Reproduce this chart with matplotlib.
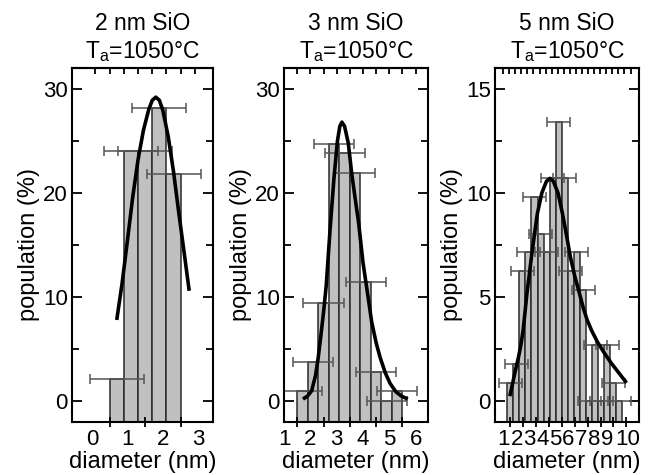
import matplotlib
matplotlib.use("Agg")
import matplotlib.pyplot as plt
import numpy as np

plt.rcParams["font.family"] = ["Liberation Sans", "DejaVu Sans"]
plt.rcParams["mathtext.default"] = "regular"

# 2 nm SiO
centers_2nm = [0.7, 1.1, 1.5, 1.9, 2.3]
pop_2nm = [2.1, 24.0, 24.0, 28.2, 21.8]
fit_x_2nm = [0.70, 0.85, 1.00, 1.15, 1.30, 1.45, 1.60, 1.70, 1.80, 1.90,
             2.00, 2.15, 2.30, 2.45, 2.60, 2.74]
fit_y_2nm = [7.8, 11.3, 15.4, 19.6, 23.2, 26.0, 28.0, 28.9, 29.2, 28.9,
             27.9, 25.4, 22.0, 18.0, 14.2, 10.6]

# 3 nm SiO
centers_3nm = [1.7, 2.1, 2.5, 2.9, 3.3, 3.7, 4.1, 4.5, 4.9, 5.3]
pop_3nm = [1.0, 3.8, 9.4, 24.7, 23.8, 21.9, 11.4, 2.8, 0.0, 1.0]
fit_x_3nm = [1.72, 1.90, 2.05, 2.20, 2.30, 2.40, 2.50, 2.60, 2.75, 2.90,
             3.03, 3.12, 3.20, 3.30, 3.44, 3.57, 3.70, 3.83, 4.00, 4.17,
             4.33, 4.50, 4.65, 4.85, 5.03, 5.25, 5.45, 5.70]
fit_y_3nm = [0.2, 0.5, 1.0, 2.5, 4.2, 6.3, 8.5, 11.0, 16.5, 21.5,
             25.0, 26.4, 26.8, 26.4, 24.8, 21.9, 19.5, 17.2, 13.3, 10.4,
             7.6, 5.6, 4.2, 2.7, 1.7, 0.9, 0.5, 0.2]

# 5 nm SiO
centers_5nm = [1.50, 1.97, 2.44, 2.91, 3.38, 3.85, 4.32, 4.79, 5.26, 5.73,
               6.20, 6.67, 7.14, 7.61, 8.08, 8.55, 9.02, 9.49, 9.96]
pop_5nm = [0.89, 1.79, 6.25, 7.14, 9.82, 8.04, 7.14, 10.7, 13.4, 10.7,
           6.25, 7.14, 5.36, 0.0, 2.68, 0.0, 2.68, 0.89, 0.0]
fit_x_5nm = [1.47, 1.70, 1.91, 2.10, 2.30, 2.50, 2.80, 3.20, 3.60, 3.95,
             4.30, 4.57, 4.85, 5.20, 5.55, 5.85, 6.17, 6.50, 6.81, 7.15,
             7.46, 7.80, 8.25, 8.75, 9.30, 9.80, 10.15, 10.51]
fit_y_5nm = [0.24, 0.9, 1.5, 2.0, 2.6, 3.4, 5.2, 7.2, 9.0, 10.0,
             10.55, 10.7, 10.55, 10.0, 9.0, 8.0, 6.9, 6.0, 5.3, 4.5,
             3.9, 3.4, 2.85, 2.35, 1.85, 1.45, 1.17, 0.88]

titles = ["2 nm SiO", "3 nm SiO", "5 nm SiO"]
anneal = "T$_a$=1050°C"

BAR_COLOR = "#c0c0c0"
EDGE_COLOR = "#2a2a2a"
ERR_COLOR = "#555555"


def draw_panel(ax, centers, pop, bin_w, xerr, fit_x, fit_y, ylim, title):
    y0 = ylim[0]
    heights = [p - y0 for p in pop]
    ax.bar(centers, heights, bottom=y0, width=bin_w, color=BAR_COLOR,
           edgecolor=EDGE_COLOR, linewidth=1.1, zorder=1)
    ax.errorbar(centers, pop, xerr=xerr, fmt="none", ecolor=ERR_COLOR,
                elinewidth=1.1, capsize=3.5, capthick=1.1, zorder=2)
    ax.plot(fit_x, fit_y, color="black", linewidth=2.6, zorder=3,
            solid_capstyle="butt")
    ax.set_ylim(*ylim)
    ax.set_ylabel("population (%)", fontsize=17, labelpad=2)
    ax.set_xlabel("diameter (nm)", fontsize=17, labelpad=1)
    ax.set_title(title + "\n" + anneal, fontsize=16.5, linespacing=1.2,
                 pad=7)
    for s in ax.spines.values():
        s.set_linewidth(1.5)
    ax.tick_params(axis="y", which="both", direction="in", left=True,
                   right=True, labelsize=16, width=1.3, pad=3)
    ax.tick_params(axis="y", which="major", length=7)
    ax.tick_params(axis="y", which="minor", length=5)
    ax.tick_params(axis="x", which="major", length=0, labelsize=16, pad=5)
    ax.tick_params(axis="x", which="minor", direction="inout", length=7,
                   width=1.3)


fig = plt.figure(figsize=(6.52, 4.75), dpi=100)
ax1 = fig.add_axes([0.1104, 0.1116, 0.2163, 0.7453])
ax2 = fig.add_axes([0.4356, 0.1116, 0.2209, 0.7453])
ax3 = fig.add_axes([0.7592, 0.1116, 0.2209, 0.7453])

draw_panel(ax1, centers_2nm, pop_2nm, 0.4, 0.76, fit_x_2nm, fit_y_2nm,
           (-2, 32), titles[0])
ax1.set_xlim(-0.56, 3.41)
ax1.set_xticks([0, 1, 2, 3])
ax1.set_xticks([0.5, 1.5, 2.5], minor=True)
ax1.set_yticks([0, 10, 20, 30])
ax1.set_yticks([5, 15, 25], minor=True)
top1 = ax1.secondary_xaxis("top")
top1.set_xticks(np.arange(0.1, 3.0, 0.4))

draw_panel(ax2, centers_3nm, pop_3nm, 0.4, 0.76, fit_x_3nm, fit_y_3nm,
           (-2, 32), titles[1])
ax2.set_xlim(1.0, 6.47)
ax2.set_xticks([1, 2, 3, 4, 5, 6])
ax2.set_xticks([1.5, 2.5, 3.5, 4.5, 5.5], minor=True)
ax2.set_yticks([0, 10, 20, 30])
ax2.set_yticks([5, 15, 25], minor=True)
top2 = ax2.secondary_xaxis("top")
top2.set_xticks(np.arange(1.5, 6.3, 0.5))

draw_panel(ax3, centers_5nm, pop_5nm, 0.47, 0.89, fit_x_5nm, fit_y_5nm,
           (-1, 16), titles[2])
ax3.set_xlim(0.32, 11.48)
ax3.set_xticks([1, 2, 3, 4, 5, 6, 7, 8, 9, 10.6])
ax3.set_xticklabels(["1", "2", "3", "4", "5", "6", "7", "8", "9", "10"])
ax3.set_xticks(np.arange(1.5, 11.0, 1.0), minor=True)
ax3.set_yticks([0, 5, 10, 15])
ax3.set_yticks([2.5, 7.5, 12.5], minor=True)
top3 = ax3.secondary_xaxis("top")
top3.set_xticks(np.arange(0.95, 11.0, 0.47))

for top in (top1, top2, top3):
    top.tick_params(direction="in", length=4, width=1.3, labeltop=False)
    top.spines["top"].set_linewidth(1.5)

fig.savefig("out.png", dpi=100)
